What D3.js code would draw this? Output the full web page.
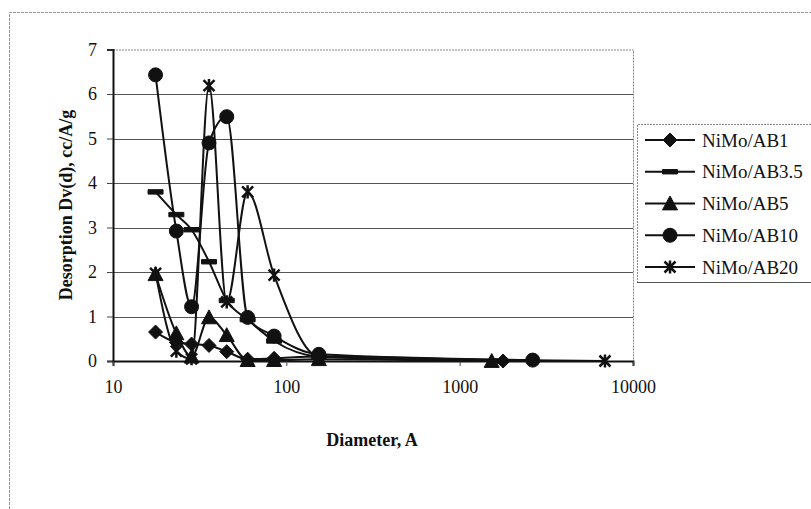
<!DOCTYPE html>
<html>
<head>
<meta charset="utf-8">
<script src="https://cdn.jsdelivr.net/npm/d3@7"></script>
<style>
body { margin: 0; background: #fff; }
svg { display: block; font-family: "Liberation Serif", "Times New Roman", serif; }
</style>
</head>
<body>
<svg width="811" height="509"></svg>
<script>
// values
var seriesNames = ['NiMo/AB1', 'NiMo/AB3.5', 'NiMo/AB5', 'NiMo/AB10', 'NiMo/AB20']

var diamAB1  = [17.6, 23.2, 28.4, 35.8, 45.3, 59.8, 85, 154, 1780]
var diamAB35 = [17.6, 23.2, 28.4, 35.8, 45.3, 59.8, 85, 154, 1650]
var diamAB5  = [17.6, 23.2, 28.4, 35.8, 45.3, 59.8, 85, 154, 1530]
var diamAB10 = [17.6, 23.2, 28.4, 35.8, 45.3, 59.8, 85, 154, 2640]
var diamAB20 = [17.6, 23.2, 28.4, 35.8, 45.3, 59.8, 85, 154, 6890]

var dvAB1  = [0.65, 0.42, 0.38, 0.35, 0.21, 0.04, 0.06, 0.10, 0.00]
var dvAB35 = [3.80, 3.29, 2.95, 2.23, 1.36, 0.93, 0.45, 0.10, 0.00]
var dvAB5  = [1.95, 0.62, 0.10, 0.98, 0.58, 0.02, 0.02, 0.04, 0.00]
var dvAB10 = [6.43, 2.92, 1.22, 4.90, 5.49, 0.98, 0.56, 0.15, 0.02]
var dvAB20 = [1.97, 0.22, 0.05, 6.19, 1.33, 3.80, 1.93, 0.10, 0.00]

var xTicks = [10, 100, 1000, 10000]
var yTicks = [0, 1, 2, 3, 4, 5, 6, 7]

var svg = d3.select('svg')

var x = d3.scaleLog().domain([10, 10000]).range([113, 633])
var y = d3.scaleLinear().domain([0, 7]).range([361, 49.5])

// excel-ish markers
var diamond = { draw: function (c, r) { c.moveTo(0, -r); c.lineTo(r, 0); c.lineTo(0, r); c.lineTo(-r, 0); c.closePath() } }
var dash = { draw: function (c, r) { c.rect(-r, -2.2, 2 * r, 4.4) } }
var tri = { draw: function (c, r) { c.moveTo(0, -r); c.lineTo(r, r * 0.85); c.lineTo(-r, r * 0.85); c.closePath() } }
var dot = { draw: function (c, r) { c.moveTo(r, 0); c.arc(0, 0, r, 0, 2 * Math.PI) } }
var star = { draw: function (c, r) {
  c.moveTo(-r, -r); c.lineTo(r, r)
  c.moveTo(r, -r); c.lineTo(-r, r)
  c.moveTo(0, -r * 1.2); c.lineTo(0, r * 1.2)
} }

var series = [
  { name: seriesNames[0], xs: diamAB1,  ys: dvAB1,  sym: diamond, r: 7 },
  { name: seriesNames[1], xs: diamAB35, ys: dvAB35, sym: dash,    r: 7.5 },
  { name: seriesNames[2], xs: diamAB5,  ys: dvAB5,  sym: tri,     r: 7.5 },
  { name: seriesNames[3], xs: diamAB10, ys: dvAB10, sym: dot,     r: 7 },
  { name: seriesNames[4], xs: diamAB20, ys: dvAB20, sym: star,    r: 5.5 }
]

// outer chart frame (scan shows only top & left)
svg.append('path')
  .attr('d', 'M9.5,509 V12.5 H811')
  .attr('fill', 'none')
  .attr('stroke', '#9a9a9a')
  .attr('stroke-dasharray', '3,1')

// gridlines
svg.append('g')
  .selectAll('line')
  .data(yTicks.slice(1, -1))
  .enter().append('line')
  .attr('x1', x(10)).attr('x2', x(10000))
  .attr('y1', function (d) { return Math.round(y(d)) + 0.5 })
  .attr('y2', function (d) { return Math.round(y(d)) + 0.5 })
  .attr('stroke', '#555')
  .attr('stroke-width', 1)

// plot area border (top/right dotted)
svg.append('path')
  .attr('d', 'M' + x(10) + ',' + (y(7) + 0.5) + ' H' + (x(10000) + 0.5) + ' V' + y(0))
  .attr('fill', 'none')
  .attr('stroke', '#888')
  .attr('stroke-dasharray', '2,1')

// axes
var yAxis = d3.axisLeft(y).tickValues(yTicks).tickSize(6).tickPadding(10).tickFormat(d3.format('d'))
var gy = svg.append('g').attr('transform', 'translate(' + x(10) + ',0)').call(yAxis)
var xAxis = d3.axisBottom(x).tickValues(xTicks).tickSize(5).tickPadding(14).tickFormat(d3.format('d'))
var gx = svg.append('g').attr('transform', 'translate(0,' + y(0) + ')').call(xAxis)

svg.selectAll('.domain').attr('stroke', '#111').attr('stroke-width', 2)
svg.selectAll('.tick line').attr('stroke', '#444')
svg.selectAll('.tick text').attr('fill', '#111').style('font-size', '18px').style('font-family', '"Liberation Serif", serif')

// smoothed lines, kept from overshooting below zero
var line = d3.line()
  .x(function (d) { return x(d[0]) })
  .y(function (d) { return y(d[1]) })
  .curve(d3.curveMonotoneX)

series.forEach(function (s) {
  var pts = d3.zip(s.xs, s.ys)
  svg.append('path')
    .datum(pts)
    .attr('d', line)
    .attr('fill', 'none')
    .attr('stroke', '#111')
    .attr('stroke-width', 2)
})

series.forEach(function (s) {
  var pts = d3.zip(s.xs, s.ys)
  svg.append('g')
    .selectAll('path')
    .data(pts)
    .enter().append('path')
    .attr('transform', function (d) { return 'translate(' + x(d[0]) + ',' + y(d[1]) + ')' })
    .attr('d', d3.symbol().type(s.sym).size(s.r))
    .attr('fill', '#111')
    .attr('stroke', '#111')
    .attr('stroke-width', s.sym === star ? 2.5 : 1)
})

// legend
var lg = svg.append('g')
lg.append('path')
  .attr('d', 'M811,124.5 H637.5 V282.5 H811')
  .attr('fill', 'none')
  .attr('stroke', '#888')
  .attr('stroke-dasharray', '2,1')
lg.append('line')
  .attr('x1', 637).attr('x2', 811).attr('y1', 282.5).attr('y2', 282.5)
  .attr('stroke', '#555')

var legendY = d3.scalePoint().domain(seriesNames).range([140, 267])
var item = lg.selectAll('g.item')
  .data(series)
  .enter().append('g')
  .attr('class', 'item')
  .attr('transform', function (d) { return 'translate(0,' + legendY(d.name) + ')' })
item.append('line')
  .attr('x1', 645).attr('x2', 695)
  .attr('stroke', '#111').attr('stroke-width', 2)
item.append('path')
  .attr('transform', 'translate(670,0)')
  .attr('d', function (d) { return d3.symbol().type(d.sym).size(d.r)() })
  .attr('fill', '#111')
  .attr('stroke', '#111')
  .attr('stroke-width', function (d) { return d.sym === star ? 2.5 : 1 })
item.append('text')
  .attr('x', 702)
  .attr('dy', '0.35em')
  .style('font-size', '19px')
  .attr('fill', '#111')
  .text(function (d) { return d.name })

// titles
svg.append('text')
  .attr('transform', 'translate(66,205) rotate(-90)')
  .attr('text-anchor', 'middle')
  .attr('dy', '0.35em')
  .style('font-size', '18px')
  .style('font-weight', 'bold')
  .attr('fill', '#111')
  .text('Desorption Dv(d), cc/A/g')

svg.append('text')
  .attr('x', 372)
  .attr('y', 446)
  .attr('text-anchor', 'middle')
  .style('font-size', '18px')
  .style('font-weight', 'bold')
  .attr('fill', '#111')
  .text('Diameter, A')
</script>
</body>
</html>
